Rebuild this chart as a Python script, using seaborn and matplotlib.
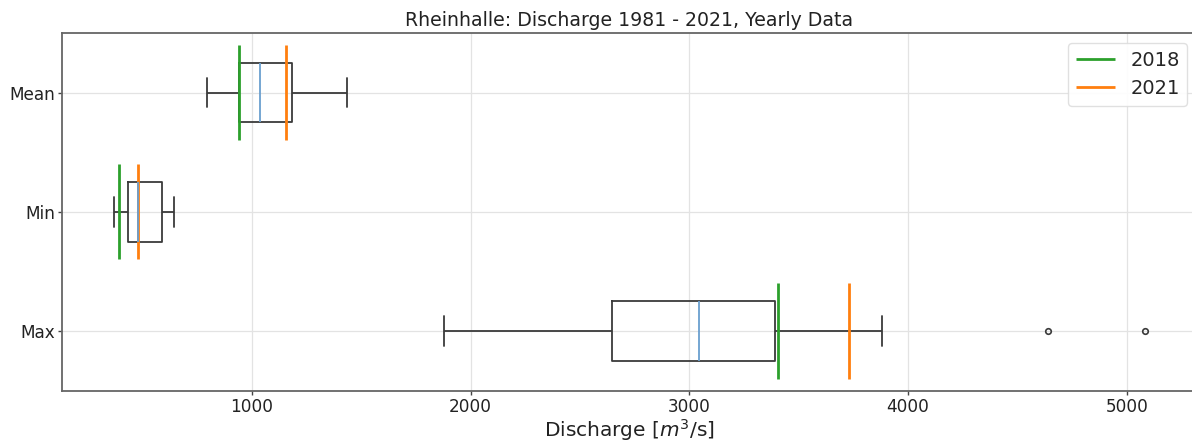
import numpy as np
import pandas as pd
import matplotlib
matplotlib.use("Agg")
import matplotlib.pyplot as plt
import seaborn as sns

# ---- data ----
categories = ["Mean", "Min", "Max"]
whisker_low = [794, 367, 1879]
q1 = [942, 434, 2645]
median = [1037, 479, 3045]
q3 = [1183, 590, 3391]
whisker_high = [1434, 642, 3879]
outliers = [[], [], [4641, 5085]]
years = ["2018", "2021"]
year_2018 = [942, 390, 3407]
year_2021 = [1157, 479, 3730]
x_ticks = [1000, 2000, 3000, 4000, 5000]

# Build a small sample per statistic that reproduces the box summary
rows = []
for cat, lo, a, m, b, hi, out in zip(categories, whisker_low, q1, median, q3,
                                     whisker_high, outliers):
    k = 1 + len(out)
    vals = [lo] + [a] * k + [m] * k + [b] * k + [hi] + list(out)
    rows += [(cat, v) for v in vals]
df = pd.DataFrame(rows, columns=["stat", "value"])

sns.set_theme(style="white")
plt.rcParams["font.family"] = ["DejaVu Sans"]

fig = plt.figure(figsize=(11.92, 4.42), dpi=100)
ax = fig.add_axes([62 / 1192, 1 - 390.5 / 442, (1197 - 62) / 1192, (390.5 - 33) / 442])

box_col = "#3a3a3a"
sns.boxplot(data=df, x="value", y="stat", order=categories, orient="h",
            width=0.5, fill=False, color=box_col, linewidth=1.3, whis=1.5,
            capwidths=0.25,
            medianprops=dict(color="#6a9fcf", linewidth=1.3),
            flierprops=dict(marker="o", markersize=4, markerfacecolor="none",
                            markeredgecolor=box_col, markeredgewidth=1.2),
            ax=ax)

pos = np.arange(len(categories))
ax.vlines(year_2018, pos - 0.4, pos + 0.4, color="#2ca02c", linewidth=2, label=years[0])
ax.vlines(year_2021, pos - 0.4, pos + 0.4, color="#ff7f0e", linewidth=2, label=years[1])

ax.set_ylim(len(categories) - 0.5, -0.5)
ax.set_xticks(x_ticks)
ax.grid(True, color="#e3e3e3", linewidth=0.9)
ax.set_axisbelow(True)
for s in ax.spines.values():
    s.set_color("#666666")
    s.set_linewidth(1.3)
ax.tick_params(axis="both", which="major", length=2.6, width=1, color="#444444",
               pad=2.5, labelsize=12.2, labelcolor="#222222", left=True, bottom=True)
ax.set_ylabel("")
ax.set_xlabel("Discharge [$m^3$/s]", fontsize=14.5, color="#222222", labelpad=1)
ax.set_title("Rheinhalle: Discharge 1981 - 2021, Yearly Data", fontsize=13.6,
             color="#222222", pad=5)
ax.legend(loc="upper right", fontsize=14, framealpha=0.9, edgecolor="#dddddd")

fig.savefig("out.png", dpi=100)
